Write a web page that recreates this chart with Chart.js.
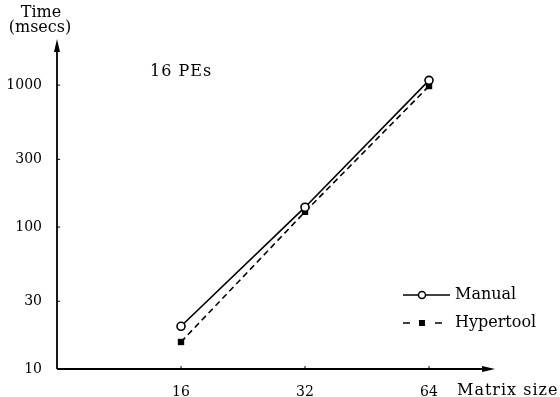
<!DOCTYPE html>
<html>
<head>
<meta charset="utf-8">
<script src="https://cdn.jsdelivr.net/npm/chart.js@4/dist/chart.umd.min.js"></script>
<style>
  html, body { margin: 0; padding: 0; background: #fff; }
  #wrap { width: 560px; height: 397px; }
</style>
</head>
<body>
<div id="wrap"><canvas id="timeChart" width="560" height="397"></canvas></div>
<script>
const sizes = [16, 32, 64];
const manual = [20, 138, 1080];
const hypertool = [15.5, 128, 985];
const yTicks = [10, 30, 100, 300, 1000];
const seriesNames = ['Manual', 'Hypertool'];

const FONT = '"DejaVu Serif", "Liberation Serif", serif';

// axes with arrows, inward ticks, titles and legend
const paperPlugin = {
  id: 'paper',
  afterDraw(chart) {
    const ctx = chart.ctx;
    const a = chart.chartArea;
    const xs = chart.scales.x, ys = chart.scales.y;
    ctx.save();
    ctx.strokeStyle = '#000';
    ctx.fillStyle = '#000';
    ctx.lineWidth = 1.8;

    // y axis
    ctx.beginPath();
    ctx.moveTo(a.left, a.bottom);
    ctx.lineTo(a.left, a.top);
    ctx.stroke();
    ctx.beginPath();
    ctx.moveTo(a.left, a.top - 4);
    ctx.lineTo(a.left - 3, a.top + 9);
    ctx.lineTo(a.left + 3, a.top + 9);
    ctx.closePath();
    ctx.fill();

    // x axis
    ctx.beginPath();
    ctx.moveTo(a.left, a.bottom);
    ctx.lineTo(a.right, a.bottom);
    ctx.stroke();
    ctx.beginPath();
    ctx.moveTo(a.right + 4, a.bottom);
    ctx.lineTo(a.right - 9, a.bottom - 3);
    ctx.lineTo(a.right - 9, a.bottom + 3);
    ctx.closePath();
    ctx.fill();

    // small ticks
    ctx.lineWidth = 1;
    yTicks.forEach(v => {
      const y = ys.getPixelForValue(v);
      ctx.beginPath();
      ctx.moveTo(a.left, y);
      ctx.lineTo(a.left + 3, y);
      ctx.stroke();
    });
    sizes.forEach(v => {
      const x = xs.getPixelForValue(v);
      ctx.beginPath();
      ctx.moveTo(x, a.bottom);
      ctx.lineTo(x, a.bottom - 3);
      ctx.stroke();
    });

    // titles
    ctx.font = '16px ' + FONT;
    ctx.textBaseline = 'middle';
    ctx.textAlign = 'center';
    ctx.fillText('Time', 41, 13);
    ctx.fillText('(msecs)', 40, 28);
    ctx.textAlign = 'left';
    ctx.letterSpacing = '1px';
    ctx.fillText('16 PEs', 150, 72);
    ctx.fillText('Matrix size', 457, 391);
    ctx.letterSpacing = '0px';

    // legend
    const ds = chart.data.datasets;
    const rows = [295, 323];
    ds.forEach((d, i) => {
      const y = rows[i];
      ctx.strokeStyle = '#000';
      ctx.lineWidth = d.borderWidth;
      if (d.borderDash) {
        ctx.beginPath();
        ctx.moveTo(403, y); ctx.lineTo(410, y);
        ctx.moveTo(435, y); ctx.lineTo(442, y);
        ctx.stroke();
      } else {
        ctx.beginPath();
        ctx.moveTo(403, y);
        ctx.lineTo(450, y);
        ctx.stroke();
      }
      if (d.pointStyle === 'circle') {
        ctx.fillStyle = '#fff';
        ctx.lineWidth = 1.5;
        ctx.beginPath();
        ctx.arc(422, y, 3.5, 0, Math.PI * 2);
        ctx.fill();
        ctx.stroke();
      } else {
        ctx.fillStyle = '#000';
        ctx.fillRect(419, y - 3, 6, 6);
      }
      ctx.fillStyle = '#000';
      ctx.fillText(d.label, 455, y);
    });
    ctx.restore();
  }
};

new Chart(document.getElementById('timeChart').getContext('2d'), {
  type: 'line',
  data: {
    datasets: [
      {
        label: seriesNames[0],
        data: sizes.map((s, i) => ({ x: s, y: manual[i] })),
        borderColor: '#000',
        borderWidth: 1.6,
        pointStyle: 'circle',
        pointRadius: 4,
        pointBorderWidth: 1.6,
        pointBackgroundColor: '#fff',
        pointBorderColor: '#000',
        tension: 0
      },
      {
        label: seriesNames[1],
        data: sizes.map((s, i) => ({ x: s, y: hypertool[i] })),
        borderColor: '#000',
        borderWidth: 1.6,
        borderDash: [6, 4],
        pointStyle: 'rect',
        pointRadius: 4.5,
        pointBorderWidth: 0,
        pointBackgroundColor: '#000',
        pointBorderColor: '#000',
        tension: 0
      }
    ]
  },
  options: {
    responsive: false,
    animation: false,
    clip: false,
    layout: { padding: { top: 43, right: 69, left: 0, bottom: 0 } },
    plugins: {
      legend: { display: false },
      tooltip: { enabled: false }
    },
    scales: {
      x: {
        type: 'logarithmic',
        min: 8,
        max: 90.5,
        grid: { display: false, drawTicks: false },
        border: { display: false },
        afterBuildTicks: s => { s.ticks = sizes.map(v => ({ value: v })); },
        afterFit: s => { s.height = 28; },
        ticks: {
          autoSkip: false,
          maxRotation: 0,
          padding: 15,
          color: '#000',
          font: { family: FONT, size: 14 },
          callback: v => String(v)
        }
      },
      y: {
        type: 'logarithmic',
        min: 10,
        max: 1980,
        grid: { display: false, drawTicks: false },
        border: { display: false },
        afterBuildTicks: s => { s.ticks = yTicks.map(v => ({ value: v })); },
        afterFit: s => { s.width = 57; },
        ticks: {
          autoSkip: false,
          padding: 15,
          color: '#000',
          font: { family: FONT, size: 14 },
          callback: v => String(v)
        }
      }
    }
  },
  plugins: [paperPlugin]
});
</script>
</body>
</html>
